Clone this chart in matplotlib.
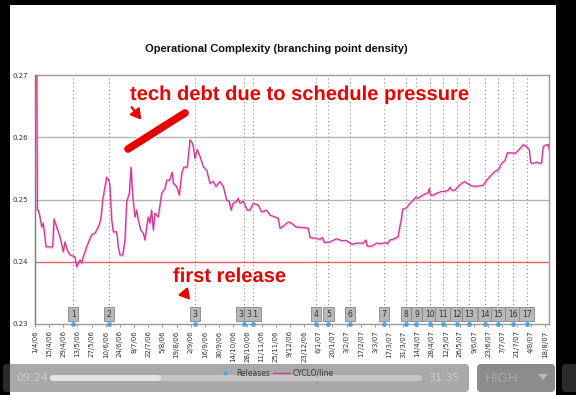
import matplotlib
matplotlib.use("Agg")
import matplotlib.pyplot as plt
import matplotlib.patheffects as pe
from matplotlib.patches import Rectangle, FancyBboxPatch, FancyArrowPatch, Polygon
from matplotlib.lines import Line2D
from matplotlib.transforms import IdentityTransform
from datetime import datetime

# ---------------- data ----------------
start_date = "1/4/06"
tick_labels = ["1/4/06", "15/4/06", "29/4/06", "13/5/06", "27/5/06", "10/6/06", "24/6/06",
               "8/7/06", "22/7/06", "5/8/06", "19/8/06", "2/9/06", "16/9/06", "30/9/06",
               "14/10/06", "28/10/06", "11/11/06", "25/11/06", "9/12/06", "23/12/06",
               "6/1/07", "20/1/07", "3/2/07", "17/2/07", "3/3/07", "17/3/07", "31/3/07",
               "14/4/07", "28/4/07", "12/5/07", "26/5/07", "9/6/07", "23/6/07", "7/7/07",
               "21/7/07", "4/8/07", "18/8/07"]
release_labels = ["1", "2", "3", "3.0", "3.1", "4", "5", "6", "7", "8", "9", "10",
                  "11", "12", "13", "14", "15", "16", "17"]
release_dates = ["9/5/06", "13/6/06", "6/9/06", "25/10/06", "2/11/06", "4/1/07", "16/1/07",
                 "6/2/07", "12/3/07", "3/4/07", "13/4/07", "26/4/07", "9/5/07", "23/5/07",
                 "4/6/07", "20/6/07", "3/7/07", "17/7/07", "31/7/07"]
# CYCLO/line series: days since 1/4/06 and values
cyclo_days = [1.8, 2.3, 3.3, 4.9, 6.6, 8.2, 10.9, 12.8, 17.5, 18.8, 21.4, 24.7, 28.0, 29.6,
              31.9, 34.6, 39.5, 41.2, 44.5, 46.2, 47.7, 51.1, 53.7, 56.0, 59.3, 62.6, 64.9,
              66.9, 69.2, 70.9, 73.1, 74.1, 75.8, 77.4, 80.7, 82.3, 84.0, 86.7, 88.9, 90.6,
              93.2, 94.9, 96.6, 98.8, 100.5, 102.1, 104.5, 107.0, 108.7, 110.4, 112.0, 113.6,
              115.3, 116.9, 118.6, 121.8, 125.2, 128.5, 130.2, 133.1, 135.7, 136.7, 140.0,
              142.6, 145.0, 147.2, 150.5, 153.2, 155.8, 156.4, 158.1, 160.4, 163.1, 166.3,
              169.7, 172.9, 176.2, 178.9, 182.8, 186.1, 189.4, 192.0, 193.7, 196.0, 199.3,
              200.9, 202.6, 205.9, 209.8, 212.5, 215.7, 220.7, 224.0, 229.0, 232.2, 237.2,
              240.4, 242.1, 245.4, 250.3, 253.7, 257.9, 265.1, 270.1, 271.8, 276.7, 281.6,
              284.3, 285.9, 291.5, 298.2, 303.1, 308.0, 313.0, 317.9, 324.4, 327.1, 328.4,
              332.7, 337.7, 342.6, 345.9, 348.2, 350.8, 353.8, 358.7, 362.2, 363.4, 367.3,
              370.6, 373.8, 376.5, 378.8, 382.1, 385.4, 388.7, 389.7, 391.0, 393.6, 397.0,
              401.9, 405.2, 408.4, 410.1, 411.8, 415.1, 418.3, 421.7, 424.9, 428.2, 431.6,
              434.8, 439.8, 443.0, 446.4, 449.6, 454.6, 457.9, 461.2, 464.5, 466.8, 471.1,
              474.4, 476.6, 479.3, 482.6, 485.9, 488.5, 489.9, 492.4, 495.8, 499.1, 500.7,
              502.3, 505.7, 507.3, 508.3]
cyclo_values = [0.2720, 0.2483, 0.2483, 0.2472, 0.2456, 0.2462, 0.2424, 0.2424, 0.2424, 0.2469,
                0.2456, 0.2440, 0.2416, 0.2432, 0.2419, 0.2411, 0.2408, 0.2392, 0.2403, 0.2398,
                0.2408, 0.2424, 0.2435, 0.2443, 0.2446, 0.2456, 0.2467, 0.2499, 0.2521, 0.2536,
                0.2531, 0.2521, 0.2467, 0.2448, 0.2448, 0.2424, 0.2411, 0.2411, 0.2435, 0.2496,
                0.2510, 0.2552, 0.2505, 0.2472, 0.2483, 0.2467, 0.2451, 0.2446, 0.2435, 0.2456,
                0.2472, 0.2462, 0.2483, 0.2451, 0.2478, 0.2472, 0.2510, 0.2518, 0.2531, 0.2531,
                0.2544, 0.2526, 0.2521, 0.2507, 0.2542, 0.2552, 0.2552, 0.2596, 0.2590, 0.2585,
                0.2566, 0.2580, 0.2569, 0.2553, 0.2547, 0.2526, 0.2529, 0.2521, 0.2529, 0.2521,
                0.2499, 0.2497, 0.2483, 0.2494, 0.2497, 0.2502, 0.2494, 0.2497, 0.2483, 0.2483,
                0.2494, 0.2491, 0.2480, 0.2483, 0.2475, 0.2472, 0.2470, 0.2454, 0.2457, 0.2464,
                0.2462, 0.2456, 0.2455, 0.2454, 0.2439, 0.2438, 0.2436, 0.2439, 0.2431, 0.2432,
                0.2437, 0.2434, 0.2434, 0.2428, 0.2430, 0.2430, 0.2435, 0.2425, 0.2425, 0.2430,
                0.2429, 0.2431, 0.2429, 0.2435, 0.2436, 0.2440, 0.2470, 0.2484, 0.2487, 0.2494,
                0.2499, 0.2504, 0.2502, 0.2506, 0.2509, 0.2511, 0.2518, 0.2507, 0.2507, 0.2510,
                0.2513, 0.2513, 0.2515, 0.2520, 0.2515, 0.2515, 0.2521, 0.2526, 0.2529, 0.2525,
                0.2522, 0.2521, 0.2522, 0.2523, 0.2531, 0.2537, 0.2545, 0.2548, 0.2558, 0.2563,
                0.2575, 0.2575, 0.2574, 0.2577, 0.2582, 0.2588, 0.2585, 0.2580, 0.2559, 0.2558,
                0.2560, 0.2558, 0.2559, 0.2585, 0.2588, 0.2588, 0.2580]
y_ticks = [0.23, 0.24, 0.25, 0.26, 0.27]
threshold = 0.24
title = "Operational Complexity (branching point density)"
note_top = "tech debt due to schedule pressure"
note_bottom = "first release"
time_left, time_right, quality = "09:24", "31:35", "HIGH"

# ---------------- helpers ----------------
base = datetime.strptime(start_date, "%d/%m/%y")
def day_of(s):
    return (datetime.strptime(s, "%d/%m/%y") - base).days

W, H = 576, 395
P = IdentityTransform()
def Y(py):
    return H - py

fig = plt.figure(figsize=(W / 100, H / 100), dpi=100, facecolor="black")
fig.add_artist(Rectangle((10, Y(395)), 546, 390, transform=P, facecolor="white",
                         edgecolor="none", zorder=0))

ax = fig.add_axes([35 / W, Y(324) / H, (549 - 35) / W, (324 - 75) / H])
ax.set_facecolor("white")
ax.set_xlim(0, 508)
ax.set_ylim(0.23, 0.27)

# grid
for v in y_ticks[1:-1]:
    if v == threshold:
        continue
    ax.axhline(v, color="#b4b4b4", lw=1.0, zorder=1)
ax.axhline(threshold, color="#e26262", lw=1.0, zorder=2)

# releases
rel_x = [day_of(d) for d in release_dates]
for x in rel_x:
    ax.axvline(x, color="#8c8c8c", lw=0.8, linestyle=(0, (1, 2.5)), zorder=1)
ax.scatter(rel_x, [0.23] * len(rel_x), s=6, color="#45a6ec", zorder=6, clip_on=False,
           label="Releases")
for x, lab in zip(rel_x, release_labels):
    ax.text(x, 0.2316, lab, ha="center", va="center", fontsize=5.5, color="#333333",
            zorder=5,
            bbox=dict(boxstyle="square,pad=0.35", facecolor="#b8b8b8",
                      edgecolor="#888888", lw=0.6))

# series
ax.plot(cyclo_days, cyclo_values, color="#d4399c", lw=1.0, zorder=4, label="CYCLO/line",
        path_effects=[pe.SimpleLineShadow(offset=(0.6, -1.0), shadow_color="#e7a6cf",
                                          alpha=0.5), pe.Normal()])

# axes styling
ax.set_yticks(y_ticks)
ax.set_yticklabels([f"{v:.2f}" for v in y_ticks], fontsize=5, color="#333333")
ax.set_xticks([day_of(t) for t in tick_labels])
ax.set_xticklabels(tick_labels, rotation=90, fontsize=5, color="#333333")
ax.tick_params(axis="x", length=2.5, width=0.6, color="#888888", pad=2)
ax.tick_params(axis="y", length=0, pad=5)
for s in ax.spines.values():
    s.set_color("#9a9a9a")
    s.set_linewidth(1.0)
ax.spines["left"].set_color("#7a7a7a")

fig.text(276.5, Y(49), title, transform=P, ha="center", va="center",
         fontsize=8, fontweight="bold", family="Liberation Sans", color="#111111")

# annotations
red = "#e60000"
halo = [pe.withStroke(linewidth=3.2, foreground="white")]
fig.text(130, Y(100), note_top, transform=P, ha="left", va="baseline", fontsize=14.5,
         fontweight="bold", family="Liberation Sans", color=red, path_effects=halo, zorder=20)
fig.text(173, Y(282), note_bottom, transform=P, ha="left", va="baseline", fontsize=14.5,
         fontweight="bold", family="Liberation Sans", color=red, path_effects=halo, zorder=20)
fig.add_artist(Line2D([128, 185], [Y(149), Y(113)], transform=P, lw=5.5, color=red,
                      solid_capstyle="round",
                      path_effects=[pe.withStroke(linewidth=7.5, foreground="white")],
                      zorder=20))
for (x0, y0), (x1, y1) in [((130, 105), (143, 122)), ((182, 290), (192, 302))]:
    fig.add_artist(FancyArrowPatch((x0, Y(y0)), (x1, Y(y1)), transform=P,
                                   arrowstyle="-|>,head_length=0.6,head_width=0.35",
                                   mutation_scale=10, color=red, lw=1.6, zorder=20))

# player control bar
fig.add_artist(FancyBboxPatch((3, Y(392)), 466, 28, transform=P,
                              boxstyle="round,pad=0,rounding_size=4",
                              facecolor="#555555", alpha=0.5, edgecolor="none", zorder=30))
fig.add_artist(FancyBboxPatch((50, Y(381)), 372, 6, transform=P,
                              boxstyle="round,pad=0,rounding_size=3",
                              facecolor="#c6c6c6", edgecolor="none", zorder=31))
fig.add_artist(FancyBboxPatch((50, Y(381)), 111, 6, transform=P,
                              boxstyle="round,pad=0,rounding_size=3",
                              facecolor="#e4e4e4", edgecolor="none", zorder=32))
fig.text(16, Y(378), time_left, transform=P, ha="left", va="center", fontsize=8,
         color="#cbcbcb", zorder=33)
fig.text(428, Y(378), time_right, transform=P, ha="left", va="center", fontsize=8,
         color="#cbcbcb", zorder=33)
fig.add_artist(FancyBboxPatch((477, Y(392)), 78, 28, transform=P,
                              boxstyle="round,pad=0,rounding_size=4",
                              facecolor="#8c8c8c", edgecolor="none", zorder=30))
fig.text(485, Y(378), quality, transform=P, ha="left", va="center", fontsize=9.5,
         color="#a9a9a9", zorder=33)
fig.add_artist(Polygon([(538, Y(374)), (548, Y(374)), (543, Y(380))], closed=True,
                       transform=P, facecolor="#b8b8b8", edgecolor="none", zorder=33))
fig.add_artist(FancyBboxPatch((562, Y(392)), 30, 28, transform=P,
                              boxstyle="round,pad=0,rounding_size=4",
                              facecolor="#2b2b2b", edgecolor="none", zorder=30))

# legend (sits under the player bar in the original)
h, l = ax.get_legend_handles_labels()
leg = fig.legend(h, l, loc="center", bbox_to_anchor=(275 / W, Y(373) / H), ncol=2,
                 frameon=False, fontsize=5.5, handlelength=2.2, handletextpad=0.4,
                 columnspacing=0.4, markerscale=0.8)
leg.set_zorder(34)
for t in leg.get_texts():
    t.set_color("#3a3a3a")

fig.savefig("out.png", dpi=100, facecolor="black")
